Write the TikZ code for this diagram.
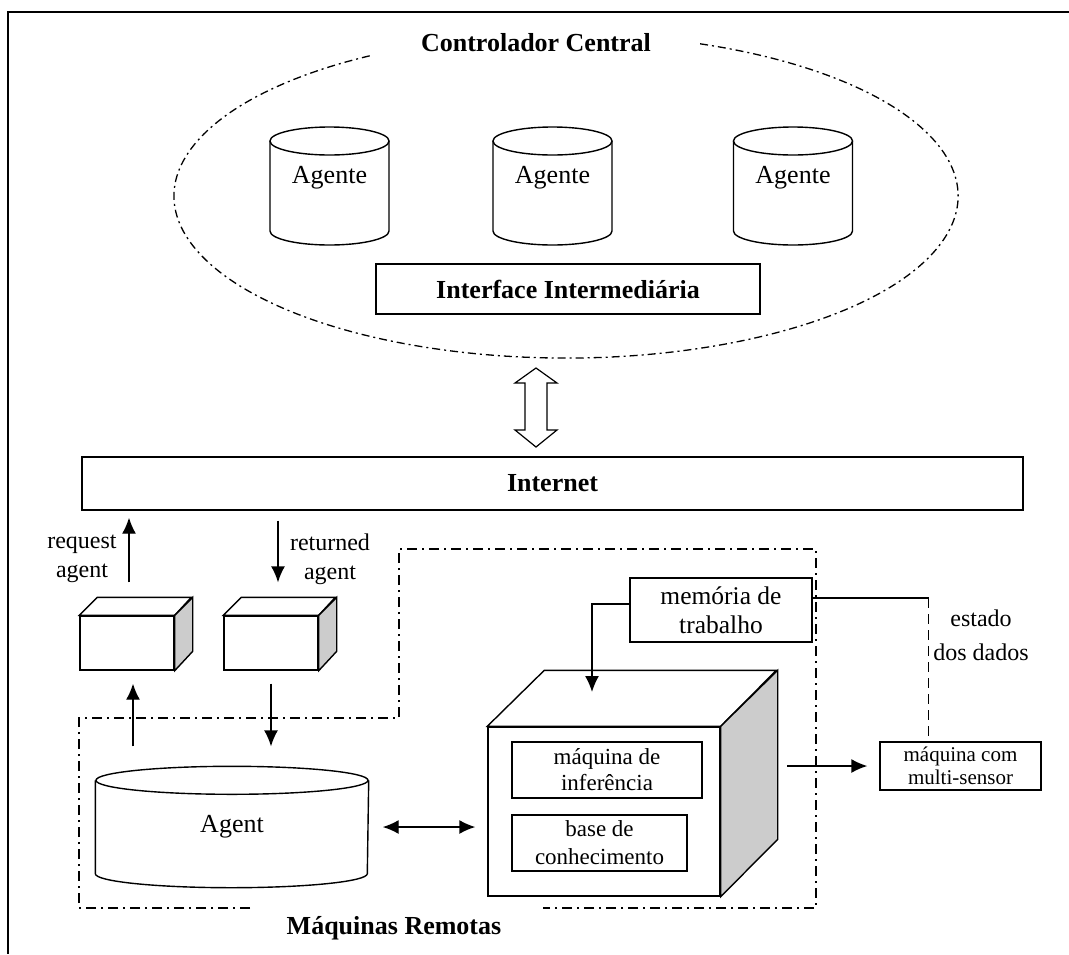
\documentclass[tikz,border=0pt]{standalone}
\usepackage{fontspec}
\setmainfont{Liberation Serif}
\usetikzlibrary{arrows.meta,positioning}

\begin{document}
\begin{tikzpicture}[x=1pt,y=-1pt,>={Latex[length=16pt,width=14pt]},line width=1.4pt,
    txt/.style={font=\fontsize{24}{29}\selectfont},
    cyltxt/.style={font=\fontsize{26}{30}\selectfont},
    ttl/.style={font=\fontsize{26}{30}\selectfont\bfseries},
    box/.style={draw,rectangle,inner sep=0pt,align=center},
    rmline/.style={line width=1.3pt,dash pattern=on 10pt off 5pt on 2pt off 5pt}]
	\useasboundingbox (0,0) rectangle (1069,954);
	\draw (7,12) -- (1069,12);
	\draw (8,12) -- (8,954);

	% controlador central
	\draw[line width=1.3pt,dash pattern=on 8pt off 4pt on 2pt off 4pt] (700.1,43.8) arc[start angle=70,end angle=-240,x radius=392pt,y radius=162pt];
	\node[ttl] (ctrl) at (536,43) {Controlador Central};
	\foreach \x/\n in {329.5/ag1,552.5/ag2,793/ag3}{
		\draw (\x-59.5,141) -- (\x-59.5,231) arc[start angle=180,end angle=360,x radius=59.5pt,y radius=14pt] -- (\x+59.5,141);
		\draw (\x,141) ellipse [x radius=59.5pt,y radius=14pt];
		\node[cyltxt] (\n) at (\x,178) {Agente};
	}
	\node[box,ttl,minimum width=384pt,minimum height=50pt] (iface) at (568,289) {Interface Intermediária};
	\draw[line width=1.2pt,fill=white] (536,368) -- (557,383) -- (547,383) -- (547,430) -- (557,430) -- (536,447) -- (515,430) -- (525,430) -- (525,383) -- (515,383) -- cycle;

	\node[box,ttl,minimum width=941pt,minimum height=53pt] (inet) at (552.5,483.5) {Internet};

	% maquinas remotas
	\draw[rmline] (250,908) -- (79,908) -- (79,718) -- (399,718) -- (399,549) -- (816,549) -- (816,908) -- (543,908);
	\node[ttl] (remote) at (394,928) {Máquinas Remotas};

	\node[box,fill=white,minimum width=94pt,minimum height=54pt] (cubeA) at (127,643) {};
	\node[box,fill=white,minimum width=94pt,minimum height=54pt] (cubeB) at (271,643) {};
	\foreach \c in {cubeA,cubeB}{
		\draw[fill=white] (\c.north west) -- ++(18,-18) -- ++(94,0) -- (\c.north east) -- cycle;
		\draw[fill=gray!40] (\c.north east) -- ++(18,-18) -- ++(0,54) -- (\c.south east) -- cycle;
	}
	\node[txt,align=center] (req) at (82,559) {request\\agent};
	\node[txt,align=center] (ret) at (330,559) {returned\\agent};
	\draw[->,shorten >=7pt] ([xshift=2pt,yshift=33pt]cubeA.north) -- ([xshift=2pt]cubeA.north |- inet.south);
	\draw[->,shorten <=10pt] ([xshift=7pt]cubeB.north |- inet.south) -- ([xshift=7pt,yshift=33pt]cubeB.north);

	\node[cyltxt,inner sep=0pt,minimum width=272pt,minimum height=92pt] (agent) at (232,827) {Agent};
	\draw (agent.north west) -- (agent.south west) arc[start angle=180,end angle=360,x radius=136pt,y radius=14pt] -- (agent.north east);
	\draw (agent.north) ellipse [x radius=136pt,y radius=14pt];
	\draw[->,shorten <=34pt,shorten >=13pt] ([xshift=6pt]cubeA.south |- agent.north) -- ([xshift=6pt]cubeA.south);
	\draw[->,shorten <=13pt,shorten >=34pt] (cubeB.south) -- (cubeB.south |- agent.north);

	\node[box,fill=white,minimum width=232pt,minimum height=169pt] (cube) at (604,811.5) {};
	\draw[fill=white] (cube.north west) -- ++(57,-56) -- ++(232,0) -- (cube.north east) -- cycle;
	\draw[fill=gray!40] (cube.north east) -- ++(57,-56) -- ++(0,169) -- (cube.south east) -- cycle;
	\node[box,font=\fontsize{23}{26}\selectfont,minimum width=190pt,minimum height=56pt] (infer) at (607,770) {máquina de\\inferência};
	\node[box,font=\fontsize{23}{28}\selectfont,minimum width=175pt,minimum height=56pt] (kb) at (599.5,843) {base de\\conhecimento};
	\draw[<->,shorten <=14pt,shorten >=12pt] (agent.east) -- (agent.east -| cube.west);

	\node[box,font=\fontsize{25.5}{29}\selectfont,minimum width=182pt,minimum height=64pt] (mem) at (721,610) {memória de\\trabalho};
	\coordinate (topface) at (592,692);
	\draw[->] ([yshift=6pt]mem.west) -| (topface);

	\node[box,font=\fontsize{21}{23}\selectfont,minimum width=161pt,minimum height=48pt] (sensor) at (960.5,766) {máquina com\\multi-sensor};
	\coordinate (cubeout) at (787,766);
	\draw[->,shorten >=12pt] (cubeout) -- (sensor.west);
	\draw ([yshift=12pt]mem.east) -- ++(116,0) coordinate (bend);
	\draw[dash pattern=on 10pt off 6pt] (bend) -- (bend |- sensor.north);
	\node[txt,align=center] (state) at (981,635) {estado\\[5pt]dos dados};
\end{tikzpicture}
\end{document}
